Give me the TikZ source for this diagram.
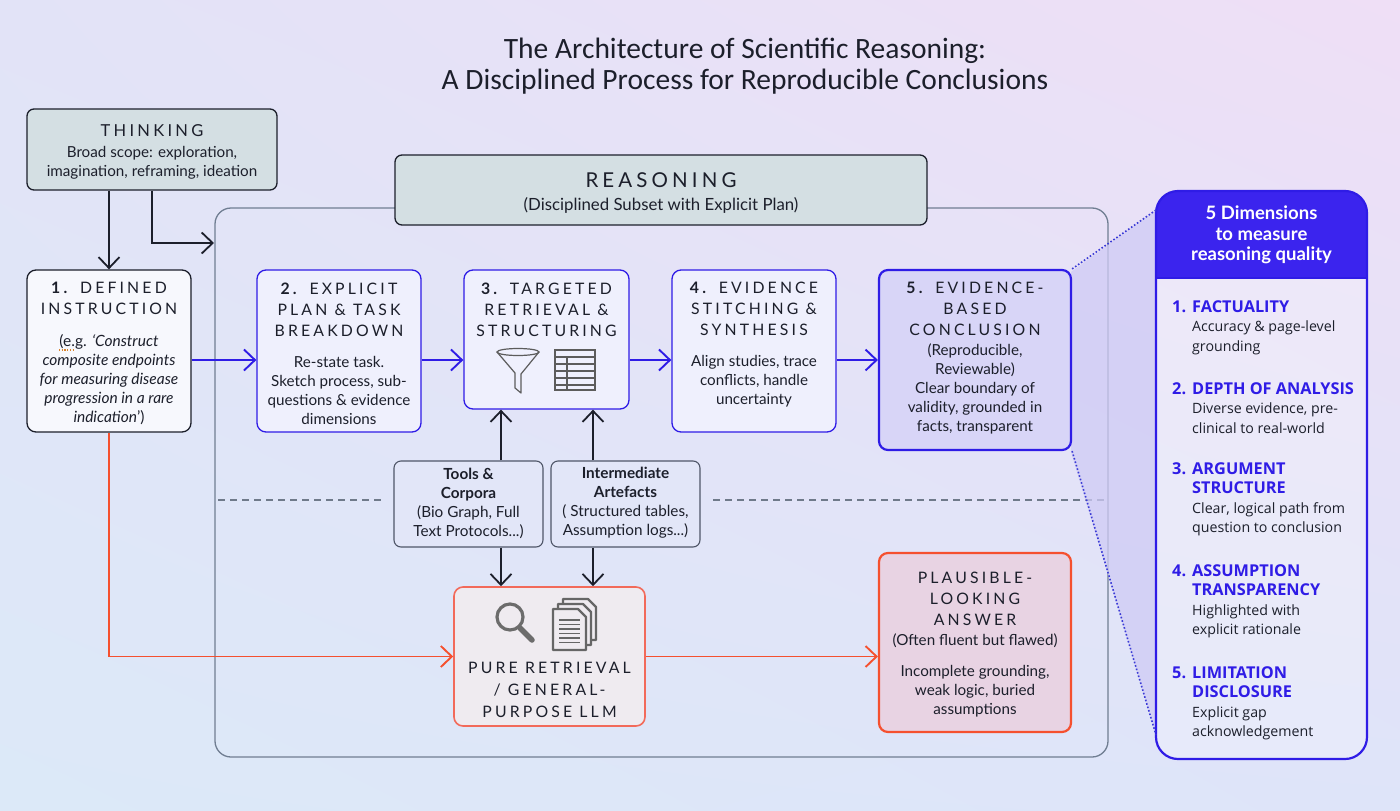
\documentclass[tikz,border=0pt]{standalone}
\usepackage{fontspec}
\setmainfont{Lato}
\newfontfamily\titlefont{Carlito}
\newfontfamily\panelfont{Open Sans}
\newfontfamily\spaced[LetterSpace=20]{Lato}
\usetikzlibrary{arrows.meta,shadings}

\definecolor{bgTL}{HTML}{E2E3F7}
\definecolor{bgTR}{HTML}{EFDFF6}
\definecolor{bgBL}{HTML}{DCE9F8}
\definecolor{bgBR}{HTML}{DEE4F9}
\definecolor{greyfill}{HTML}{D4DFE3}
\definecolor{ink}{HTML}{1C1F2B}
\definecolor{contline}{HTML}{707E92}
\definecolor{bluec}{HTML}{2F1CE6}
\definecolor{panelblue}{HTML}{3B24EE}
\definecolor{stepfill}{HTML}{EFF0FD}
\definecolor{onefill}{HTML}{F7F8FD}
\definecolor{s5fill}{HTML}{D8D5F7}
\definecolor{redc}{HTML}{F5502F}
\definecolor{llmline}{HTML}{F26A5A}
\definecolor{llmfill}{HTML}{EFEBF0}
\definecolor{plfill}{HTML}{E8D3E3}
\definecolor{toolline}{HTML}{4F5668}
\definecolor{toolfill}{HTML}{E2E6F8}
\definecolor{iconc}{HTML}{5C5C5C}
\definecolor{dashc}{HTML}{6F7A8A}
\definecolor{shadec}{HTML}{CFCBF5}
\definecolor{dotc}{HTML}{3B3BD6}
\definecolor{spellc}{HTML}{D9822B}

\newcommand{\hd}{\spaced\fontsize{15.8}{19}\selectfont}
\newcommand{\bodyf}{\fontsize{15.2}{19}\selectfont}
\newcommand{\itm}{\color{bluec}\bfseries\fontsize{16.3}{19.5}\selectfont}

\tikzset{
  every node/.style={text=ink},
  base/.style={draw, rounded corners=9, inner sep=0, line width=1.3},
  greybox/.style={base, rounded corners=7, fill=greyfill, draw=ink},
  onebox/.style={base, fill=onefill, draw=ink},
  stepbox/.style={base, fill=stepfill, draw=bluec},
  fivebox/.style={base, fill=s5fill, draw=bluec, line width=2.2},
  toolbox/.style={base, rounded corners=7, fill=toolfill, draw=toolline, line width=1.1},
  llmbox/.style={base, fill=llmfill, draw=llmline, line width=1.6},
  plbox/.style={base, fill=plfill, draw=redc, line width=2.2},
  contbox/.style={draw=contline, line width=1.3, rounded corners=16, inner sep=0},
  txt/.style={align=center, inner sep=0, font=\bodyf},
  blk/.style={draw=ink, line width=1.8, -{Straight Barb[length=11pt,width=21pt,line width=1.8pt]}},
  bluearr/.style={draw=bluec, line width=1.9, -{Straight Barb[length=11pt,width=21pt,line width=1.9pt]}},
  redarr/.style={draw=redc, line width=1.9, -{Straight Barb[length=11pt,width=21pt,line width=1.9pt]}},
  icon/.style={draw=iconc, line width=1.2},
  itemtxt/.style={align=left, inner sep=0, anchor=north west, font=\panelfont\fontsize{14.2}{19.5}\selectfont},
}

\begin{document}
\begin{tikzpicture}[x=1pt,y=-1pt]
\path[use as bounding box] (0,0) rectangle (1400,811);
\shade[upper left=bgTL, upper right=bgTR, lower left=bgBL, lower right=bgBR] (0,0) rectangle (1400,811);

% title
\node[inner sep=0, align=center, font=\titlefont\fontsize{29.5}{31}\selectfont] (title) at (745,66)
  {The Architecture of Scientific Reasoning:\\A Disciplined Process for Reproducible Conclusions};

% container
\node[contbox, minimum width=893, minimum height=549] (cont) at (661.5,482.5) {};

% dashed separator
\draw[dashc, line width=1.1, dash pattern=on 7pt off 5pt] (218,500) -- (385,500);
\draw[dashc, line width=1.1, dash pattern=on 7pt off 5pt] (713,500) -- (1105,500);

% lavender projection
\fill[shadec, opacity=0.75] (1071,272) -- (1156,210) -- (1156,735) -- (1071,452) -- cycle;

% thinking
\node[greybox, minimum width=250, minimum height=81] (think) at (152,149.5) {};
\node[txt] (thinkt) at (152,151.5) {{\spaced\fontsize{16.5}{19}\selectfont THINKING}\\[2pt]Broad scope: exploration,\\imagination, reframing, ideation};

% reasoning header
\node[greybox, minimum width=532, minimum height=70] (reas) at (661,190) {};
\node[txt] (reast) at (661,193) {{\spaced\fontsize{20.5}{19}\selectfont REASONING}\\[4pt]{\fontsize{16.8}{19}\selectfont(Disciplined Subset with Explicit Plan)}};

% steps
\node[onebox, minimum width=164, minimum height=162] (s1) at (109,351) {};
\node[txt] (s1t) at (109,353) {{\hd\textbf{1.} DEFINED}\\[2pt]{\hd INSTRUCTION}\\[13pt]
  {\fontsize{15.5}{19}\selectfont(e.g. \textit{‘Construct}}\\{\fontsize{15.5}{19}\selectfont\textit{composite endpoints}}\\{\fontsize{15.5}{19}\selectfont\textit{for measuring disease}}\\{\fontsize{15.5}{19}\selectfont\textit{progression in a rare}}\\{\fontsize{15.5}{19}\selectfont\textit{indication}’)}};
\draw[spellc, line width=1.1, dash pattern=on 1.1pt off 1.6pt] (59,350) -- (74,350);

\node[stepbox, minimum width=164, minimum height=162] (s2) at (339,351) {};
\node[txt] (s2t) at (339,354) {{\hd\textbf{2.} EXPLICIT}\\[2pt]{\hd PLAN \& TASK}\\[2pt]{\hd BREAKDOWN}\\[12pt]
  Re-state task.\\Sketch process, sub-\\questions \& evidence\\dimensions};

\node[stepbox, minimum width=165, minimum height=139] (s3) at (546.5,339.5) {};
\node[txt] (s3t) at (546.5,310) {{\hd\textbf{3.} TARGETED}\\[2pt]{\hd RETRIEVAL \&}\\[2pt]{\hd STRUCTURING}};

\node[stepbox, minimum width=164, minimum height=162] (s4) at (754,351) {};
\node[txt] (s4t) at (754,345) {{\hd\textbf{4.} EVIDENCE}\\[2pt]{\hd STITCHING \&}\\[2pt]{\hd SYNTHESIS}\\[12pt]
  Align studies, trace\\conflicts, handle\\uncertainty};

\node[fivebox, minimum width=192, minimum height=180] (s5) at (975,360) {};
\node[txt] (s5t) at (975,358) {{\hd\textbf{5.} EVIDENCE-}\\[2pt]{\hd BASED}\\[2pt]{\hd CONCLUSION}\\[1pt]
  (Reproducible,\\Reviewable)\\Clear boundary of\\validity, grounded in\\facts, transparent};

% funnel icon
\draw[icon] (518,352) ellipse [x radius=21, y radius=3.5];
\draw[icon, line join=round] (497,352) -- (515,373) -- (515,388) -- (521,393) -- (521,374) -- (539,352);
% table icon
\draw[icon] (555,350) rectangle (595,390);
\draw[icon] (567,357) -- (567,390);
\foreach \yy in {357,364,371,378,385} \draw[icon] (555,\yy) -- (595,\yy);

% tools and artefacts
\node[toolbox, minimum width=149, minimum height=86] (tools) at (468.5,504) {};
\node[txt, font=\fontsize{15.3}{19}\selectfont] (toolst) at (468.5,503) {\textbf{Tools \&}\\\textbf{Corpora}\\(Bio Graph, Full\\Text Protocols...)};
\node[toolbox, minimum width=149, minimum height=86] (arte) at (625.5,504) {};
\node[txt, font=\fontsize{15.3}{19}\selectfont] (artet) at (625.5,503) {\textbf{Intermediate}\\\textbf{Artefacts}\\( Structured tables,\\Assumption logs...)};

% LLM box
\node[llmbox, minimum width=191, minimum height=139] (llm) at (549.5,656.5) {};
\node[txt] (llmt) at (549.5,690) {{\hd PURE RETRIEVAL}\\[3pt]{\hd / GENERAL-}\\[3pt]{\hd PURPOSE LLM}};
% magnifier
\draw[draw=gray!85!black, line width=3.2] (510,617) circle [radius=13];
\draw[draw=gray!85!black, line width=5.5, line cap=round] (520,628) -- (532,640);
% documents
\foreach \dx in {10,5,0} {
  \draw[draw=gray!80!black, fill=llmfill, line width=2.2, line join=round]
    (553+\dx,609-\dx) -- (578+\dx,609-\dx) -- (586+\dx,617-\dx) -- (586+\dx,650-\dx) -- (553+\dx,650-\dx) -- cycle;
}
\foreach \yy in {620,624.5,629,633.5,638,642.5} \draw[draw=gray!80!black, line width=1.3] (559,\yy) -- (580,\yy);

% plausible
\node[plbox, minimum width=192, minimum height=179] (plaus) at (975,642.5) {};
\node[txt] (plaust) at (975,645) {{\hd PLAUSIBLE-}\\[2pt]{\hd LOOKING}\\[2pt]{\hd ANSWER}\\[1pt]
  (Often fluent but flawed)\\[12pt]Incomplete grounding,\\weak logic, buried\\assumptions};

% right panel
\begin{scope}
  \clip[rounded corners=22] (1156,191) rectangle (1367,759);
  \fill[white, opacity=0.25] (1150,185) rectangle (1370,765);
  \fill[panelblue] (1150,185) rectangle (1370,278);
\end{scope}
\draw[bluec, line width=1.2] (1156,278) -- (1367,278);
\node[draw=bluec, line width=2.2, rounded corners=22, minimum width=211, minimum height=568, inner sep=0] (panel) at (1261.5,475) {};
\node[txt, text=white, font=\bfseries\fontsize{18.5}{20.5}\selectfont] (panelt) at (1261.5,235) {5 Dimensions\\to measure\\reasoning quality};

\node[itemtxt] (d1) at (1172,300) {{\itm\makebox[20pt][l]{1.}FACTUALITY}\\\hspace*{20pt}Accuracy \& page-level\\\hspace*{20pt}grounding};
\node[itemtxt] (d2) at (1172,382) {{\itm\makebox[20pt][l]{2.}DEPTH OF ANALYSIS}\\\hspace*{20pt}Diverse evidence, pre-\\\hspace*{20pt}clinical to real-world};
\node[itemtxt] (d3) at (1172,462) {{\itm\makebox[20pt][l]{3.}ARGUMENT}\\{\itm\hspace*{20pt}STRUCTURE}\\\hspace*{20pt}Clear, logical path from\\\hspace*{20pt}question to conclusion};
\node[itemtxt] (d4) at (1172,564) {{\itm\makebox[20pt][l]{4.}ASSUMPTION}\\{\itm\hspace*{20pt}TRANSPARENCY}\\\hspace*{20pt}Highlighted with\\\hspace*{20pt}explicit rationale};
\node[itemtxt] (d5) at (1172,666) {{\itm\makebox[20pt][l]{5.}LIMITATION}\\{\itm\hspace*{20pt}DISCLOSURE}\\\hspace*{20pt}Explicit gap\\\hspace*{20pt}acknowledgement};

% dotted projection lines
\coordinate (pt) at (1156,210);
\coordinate (pb) at (1156,735);
\draw[dotc, line width=1.6, dotted] (s5.north east) -- (pt);
\draw[dotc, line width=1.6, dotted] (s5.south east) -- (pb);

% connectors
\coordinate (tc) at (214,243);
\draw[blk] (think.south -| s1.north) -- (s1.north);
\draw[blk] (think.south) |- (tc);
\draw[bluearr] (s1.east |- s5.west) -- (s2.west |- s5.west);
\draw[bluearr] (s2.east |- s5.west) -- (s3.west |- s5.west);
\draw[bluearr] (s3.east |- s5.west) -- (s4.west |- s5.west);
\draw[bluearr] (s4.east |- s5.west) -- (s5.west);
\draw[blk] (tools.north -| 501,0) -- (s3.south -| 501,0);
\draw[blk] (arte.north -| 593,0) -- (s3.south -| 593,0);
\draw[blk] (tools.south -| 501,0) -- (llm.north -| 501,0);
\draw[blk] (arte.south -| 593,0) -- (llm.north -| 593,0);
\draw[redarr] (s1.south) |- (llm.west);
\draw[redarr] (llm.east) -- (plaus.west |- llm.east);
\end{tikzpicture}
\end{document}
